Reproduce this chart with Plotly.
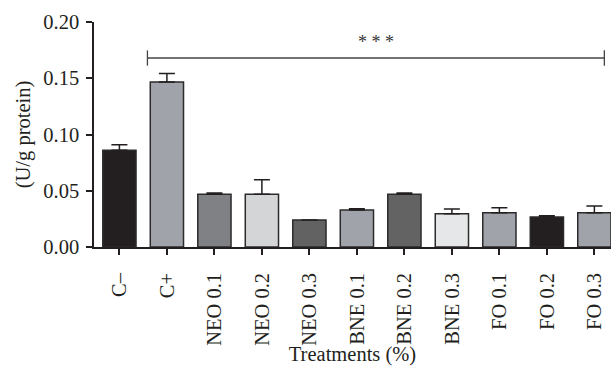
import plotly.graph_objects as go

categories = ["C\u2013", "C+", "NEO 0.1", "NEO 0.2", "NEO 0.3", "BNE 0.1", "BNE 0.2", "BNE 0.3", "FO 0.1", "FO 0.2", "FO 0.3"]
values = [0.086, 0.1467, 0.0468, 0.0468, 0.024, 0.0329, 0.0468, 0.0296, 0.0305, 0.0267, 0.0305]
errors = [0.005, 0.0075, 0.0012, 0.013, 0.0, 0.0012, 0.0012, 0.0042, 0.0045, 0.0011, 0.006]
colors = ["#231f20", "#a0a3aa", "#808184", "#d4d5d7", "#626263", "#a0a3aa", "#636363", "#e6e7e8", "#a0a3aa", "#231f20", "#a0a3aa"]
y_ticks = [0.00, 0.05, 0.10, 0.15, 0.20]

sig_from, sig_to, sig_y, sig_text = 0.59, 10.21, 0.168, "* * *"

FONT = "Liberation Serif"
INK = "#231f20"
FS = 20.5

fig = go.Figure()
fig.add_trace(go.Bar(
    x=categories, y=values, width=0.7,
    marker=dict(color=colors, line=dict(color="#2b2b2b", width=1.5)),
    error_y=dict(type="data", array=errors, arrayminus=[0]*len(errors), symmetric=False,
                 color=INK, thickness=1.5, width=8, visible=True),
    showlegend=False,
))

# significance bracket
fig.add_shape(type="line", xref="x", yref="y", x0=sig_from, x1=sig_to, y0=sig_y, y1=sig_y,
              line=dict(color="#444", width=1.3))
for xx in (sig_from, sig_to):
    fig.add_shape(type="line", xref="x", yref="y", x0=xx, x1=xx, y0=sig_y - 0.0068, y1=sig_y + 0.0068,
                  line=dict(color="#444", width=1.3))
fig.add_annotation(x=(sig_from + sig_to) / 2, y=sig_y + 0.004, xref="x", yref="y", text=sig_text,
                   showarrow=False, yanchor="bottom", font=dict(family=FONT, size=18, color="#333"))

fig.update_layout(
    width=611, height=366,
    margin=dict(l=93.5, r=0, t=22, b=119),
    paper_bgcolor="white", plot_bgcolor="white",
    font=dict(family=FONT, size=FS, color=INK),
)
fig.update_xaxes(
    type="category", range=[-0.535, 10.35],
    showline=True, linecolor=INK, linewidth=1.5,
    ticks="outside", ticklen=6, tickwidth=1.5, tickcolor=INK,
    tickangle=-90, showgrid=False, zeroline=False, ticklabelstandoff=10,
    tickfont=dict(family=FONT, size=FS, color=INK),
    title=dict(text="Treatments (%)", font=dict(family=FONT, size=FS, color=INK), standoff=2),
)
fig.update_yaxes(
    range=[0, 0.20], tickvals=y_ticks, tickformat=".2f",
    showline=True, linecolor=INK, linewidth=1.5,
    ticks="outside", ticklen=6, tickwidth=1.5, tickcolor=INK,
    showgrid=False, zeroline=False, ticklabelstandoff=3,
    tickfont=dict(family=FONT, size=FS, color=INK),
    title=dict(text="(U/g protein)", font=dict(family=FONT, size=FS, color=INK), standoff=7),
)

fig.write_html("out.html")
